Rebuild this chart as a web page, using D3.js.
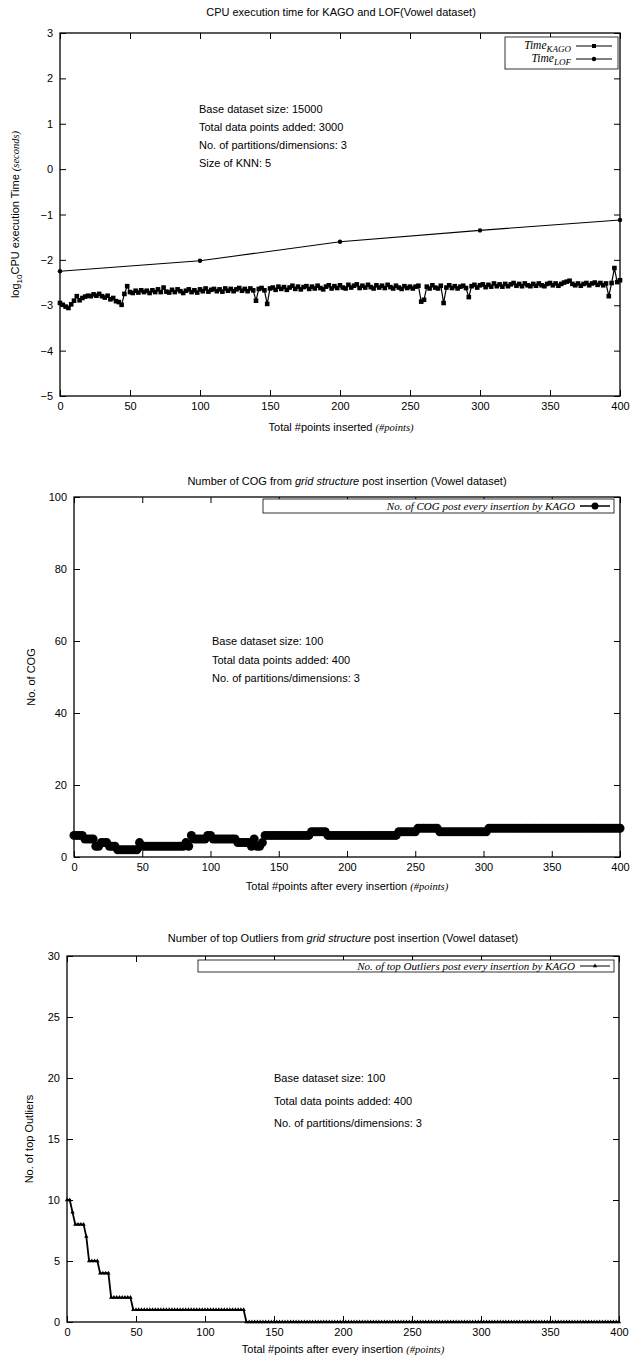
<!DOCTYPE html>
<html>
<head>
<meta charset="utf-8">
<script src="https://cdn.jsdelivr.net/npm/d3@7"></script>
<style>
  body { margin: 0; background: #fff; }
  svg { display: block; }
  text { font-family: "Liberation Sans", Arial, Helvetica, sans-serif; fill: #000; }
  .serif { font-family: "Liberation Serif", "Times New Roman", serif; font-style: italic; }
</style>
</head>
<body>
<svg id="fig" width="642" height="1358"></svg>
<script>
// ---------------- data ----------------
const xTickValues = [0, 50, 100, 150, 200, 250, 300, 350, 400];
const insertionStep = 2; // one sample every 2nd insertion

// log10 CPU time (s) of KAGO, one value per sampled insertion (0..400)
const kagoLogTime = [
  -2.95,-2.99,-3.03,-3.06,-2.98,-2.90,-2.80,-2.89,-2.84,-2.81,
  -2.79,-2.80,-2.76,-2.79,-2.75,-2.80,-2.83,-2.79,-2.87,-2.84,
  -2.91,-2.93,-2.99,-2.75,-2.58,-2.71,-2.73,-2.68,-2.72,-2.67,
  -2.71,-2.68,-2.73,-2.67,-2.71,-2.65,-2.71,-2.61,-2.70,-2.72,
  -2.66,-2.71,-2.65,-2.69,-2.73,-2.68,-2.65,-2.71,-2.67,-2.72,
  -2.65,-2.69,-2.63,-2.70,-2.66,-2.64,-2.69,-2.65,-2.70,-2.63,
  -2.68,-2.64,-2.69,-2.65,-2.62,-2.68,-2.64,-2.69,-2.63,-2.67,
  -2.90,-2.64,-2.62,-2.67,-2.97,-2.63,-2.61,-2.66,-2.59,-2.64,
  -2.60,-2.66,-2.61,-2.57,-2.64,-2.59,-2.65,-2.60,-2.58,-2.64,
  -2.59,-2.63,-2.57,-2.62,-2.65,-2.59,-2.56,-2.63,-2.58,-2.62,
  -2.56,-2.61,-2.63,-2.55,-2.61,-2.57,-2.54,-2.62,-2.57,-2.61,
  -2.55,-2.60,-2.63,-2.56,-2.61,-2.57,-2.62,-2.55,-2.60,-2.63,
  -2.57,-2.61,-2.64,-2.58,-2.62,-2.59,-2.63,-2.59,-2.57,-2.92,
  -2.88,-2.59,-2.63,-2.56,-2.61,-2.63,-2.57,-2.95,-2.61,-2.56,
  -2.62,-2.58,-2.63,-2.59,-2.57,-2.62,-2.82,-2.58,-2.55,-2.61,
  -2.56,-2.54,-2.60,-2.55,-2.59,-2.52,-2.58,-2.54,-2.59,-2.53,
  -2.58,-2.54,-2.51,-2.57,-2.53,-2.58,-2.52,-2.56,-2.58,-2.53,
  -2.57,-2.52,-2.56,-2.58,-2.53,-2.51,-2.56,-2.52,-2.57,-2.53,
  -2.50,-2.48,-2.46,-2.53,-2.56,-2.52,-2.57,-2.53,-2.51,-2.56,
  -2.52,-2.50,-2.55,-2.51,-2.56,-2.52,-2.80,-2.51,-2.18,-2.49,
  -2.45
];
// log10 CPU time (s) of LOF, measured every 100 insertions
const lofInserted = [0, 100, 200, 300, 400];
const lofLogTime = [-2.25, -2.02, -1.60, -1.35, -1.12];
const cpuYTicks = [3, 2, 1, 0, -1, -2, -3, -4, -5];

// number of COG after every sampled insertion (0..400)
const cogCounts = [
  6,6,6,6, 5,5,5,5, 3,3, 4,4,4, 3,3,3, 2,2,2,2,2,2,2,2, 4,
  3,3,3,3,3,3,3,3,3,3,3,3,3,3,3,3, 4,3,6, 5,5,5,5,5, 6,6,
  5,5,5,5,5,5,5,5,5, 4,4,4,4,4, 3,5,3,3, 4,
  6,6,6,6,6,6,6,6,6,6,6,6,6,6,6,6,6, 7,7,7,7,7,7,
  6,6,6,6,6,6,6,6,6,6,6,6,6,6,6,6,6,6,6,6,6,6,6,6,6,6,
  7,7,7,7,7,7,7, 8,8,8,8,8,8,8,8,
  7,7,7,7,7,7,7,7,7,7,7,7,7,7,7,7,7,7,
  8,8,8,8,8,8,8,8,8,8,8,8,8,8,8,8,8,8,8,8,8,8,8,8,8,
  8,8,8,8,8,8,8,8,8,8,8,8,8,8,8,8,8,8,8,8,8,8,8,8
];
const cogYTicks = [0, 20, 40, 60, 80, 100];

// number of top outliers after every sampled insertion (0..400)
const outlierCounts = [
  10,10,9,8,8,8,8,7, 5,5,5,5, 4,4,4,4,
  2,2,2,2,2,2,2,2,
  1,1,1,1,1,1,1,1,1,1,1,1,1,1,1,1,1,1,1,1,
  1,1,1,1,1,1,1,1,1,1,1,1,1,1,1,1,1,1,1,1,1,
  0,0,0,0,0,0,0,0,0,0,0,0,0,0,0,0,0,0,0,0,0,0,0,0,0,0,0,0,0,0,0,0,0,0,
  0,0,0,0,0,0,0,0,0,0,0,0,0,0,0,0,0,0,0,0,0,0,0,0,0,0,0,0,0,0,0,0,0,0,
  0,0,0,0,0,0,0,0,0,0,0,0,0,0,0,0,0,0,0,0,0,0,0,0,0,0,0,0,0,0,0,0,0,0,
  0,0,0,0,0,0,0,0,0,0,0,0,0,0,0,0,0,0,0,0,0,0,0,0,0,0,0,0,0,0,0,0,0,0
];
const outlierYTicks = [0, 5, 10, 15, 20, 25, 30];

// ---------------- drawing helpers ----------------
const svg = d3.select("#fig");
const TICK = 6;

function frame(g, x, y, yTicks) {
  const [x0, x1] = x.range();
  const [y0, y1] = y.range(); // y0 bottom, y1 top
  g.append("g").attr("transform", `translate(0,${y0})`)
    .call(d3.axisBottom(x).tickValues(xTickValues).tickSizeInner(-TICK).tickSizeOuter(0).tickPadding(6))
    .call(a => a.select(".domain").remove());
  g.append("g").attr("transform", `translate(0,${y1})`)
    .call(d3.axisTop(x).tickValues(xTickValues).tickSizeInner(-TICK).tickSizeOuter(0).tickFormat(""))
    .call(a => a.select(".domain").remove());
  g.append("g").attr("transform", `translate(${x0},0)`)
    .call(d3.axisLeft(y).tickValues(yTicks).tickSizeInner(-TICK).tickSizeOuter(0).tickPadding(7)
      .tickFormat(d => d < 0 ? "\u2212" + Math.abs(d) : d))
    .call(a => a.select(".domain").remove());
  g.append("g").attr("transform", `translate(${x1},0)`)
    .call(d3.axisRight(y).tickValues(yTicks).tickSizeInner(-TICK).tickSizeOuter(0).tickFormat(""))
    .call(a => a.select(".domain").remove());
  g.selectAll(".tick line").attr("stroke", "#000");
  g.selectAll(".tick text").attr("font-size", 11).attr("font-family", "Liberation Sans, Arial, sans-serif").attr("fill", "#000");
  g.append("rect").attr("x", x0).attr("y", y1).attr("width", x1 - x0).attr("height", y0 - y1)
    .attr("fill", "none").attr("stroke", "#000").attr("stroke-width", 1.3);
}

function title(g, cx, cy, parts) {
  const t = g.append("text").attr("x", cx).attr("y", cy).attr("text-anchor", "middle").attr("font-size", 11);
  parts.forEach(p => { const s = t.append("tspan").text(p.t); if (p.i) s.attr("font-style", "italic"); });
}

function xLabel(g, cx, cy, main) {
  const t = g.append("text").attr("x", cx).attr("y", cy).attr("text-anchor", "middle").attr("font-size", 11);
  t.append("tspan").text(main + " ");
  t.append("tspan").attr("class", "serif").attr("font-size", 10.5).text("(#points)");
}

function notes(g, x, y0, dy, lines) {
  lines.forEach((l, i) => g.append("text").attr("x", x).attr("y", y0 + i * dy).attr("font-size", 11).text(l));
}

// ---------------- panel 1: CPU time ----------------
{
  const g = svg.append("g");
  const x = d3.scaleLinear().domain([0, 400]).range([60, 620]);
  const y = d3.scaleLinear().domain([-5, 3]).range([396, 33]);
  title(g, 341, 16, [{ t: "CPU execution time for KAGO and LOF(Vowel dataset)" }]);
  frame(g, x, y, cpuYTicks);

  const kago = kagoLogTime.map((v, i) => [i * insertionStep, v]);
  const line = d3.line().x(d => x(d[0])).y(d => y(d[1]));
  g.append("path").datum(kago).attr("d", line).attr("fill", "none").attr("stroke", "#000").attr("stroke-width", 1.2);
  g.selectAll(".kago").data(kago).join("rect").attr("class", "kago")
    .attr("x", d => x(d[0]) - 2.3).attr("y", d => y(d[1]) - 2.3).attr("width", 4.6).attr("height", 4.6).attr("fill", "#000");

  const lof = lofInserted.map((v, i) => [v, lofLogTime[i]]);
  g.append("path").datum(lof).attr("d", line).attr("fill", "none").attr("stroke", "#000").attr("stroke-width", 1.1);
  g.selectAll(".lof").data(lof).join("circle").attr("class", "lof")
    .attr("cx", d => x(d[0])).attr("cy", d => y(d[1])).attr("r", 2.2).attr("fill", "#000");

  // key
  g.append("rect").attr("x", 505).attr("y", 37).attr("width", 113).attr("height", 32)
    .attr("fill", "#fff").attr("stroke", "#000").attr("stroke-width", 0.8);
  [["KAGO", 49, "sq"], ["LOF", 62, "dot"]].forEach(([name, yy, m]) => {
    const t = g.append("text").attr("x", 571).attr("y", yy).attr("text-anchor", "end").attr("class", "serif").attr("font-size", 11.5);
    t.append("tspan").text("Time");
    t.append("tspan").attr("font-size", 9).attr("dy", 3).text(name);
    g.append("line").attr("x1", 576).attr("x2", 612).attr("y1", yy - 3).attr("y2", yy - 3).attr("stroke", "#000");
    if (m === "sq") g.append("rect").attr("x", 592).attr("y", yy - 5).attr("width", 4).attr("height", 4).attr("fill", "#000");
    else g.append("circle").attr("cx", 594).attr("cy", yy - 3).attr("r", 2.2).attr("fill", "#000");
  });

  notes(g, 199, 113, 18, ["Base dataset size: 15000", "Total data points added: 3000",
    "No. of partitions/dimensions: 3", "Size of KNN: 5"]);

  xLabel(g, 341, 431, "Total #points inserted");
  const yl = g.append("text").attr("transform", `translate(19,${(33 + 396) / 2}) rotate(-90)`)
    .attr("text-anchor", "middle").attr("font-size", 11);
  yl.append("tspan").text("log");
  yl.append("tspan").attr("font-size", 8).attr("dy", 3).text("10");
  yl.append("tspan").attr("dy", -3).text("CPU execution Time ");
  yl.append("tspan").attr("class", "serif").attr("font-size", 10.5).text("(seconds)");
}

// ---------------- panel 2: COG count ----------------
{
  const g = svg.append("g");
  const x = d3.scaleLinear().domain([0, 400]).range([74, 620]);
  const y = d3.scaleLinear().domain([0, 100]).range([857, 497]);
  title(g, 347, 485, [{ t: "Number of COG from " }, { t: "grid structure", i: true }, { t: " post insertion (Vowel dataset)" }]);
  frame(g, x, y, cogYTicks);

  const cog = cogCounts.map((v, i) => [i * insertionStep, v]);
  const line = d3.line().x(d => x(d[0])).y(d => y(d[1]));
  g.append("path").datum(cog).attr("d", line).attr("fill", "none").attr("stroke", "#000").attr("stroke-width", 2);
  g.selectAll(".cog").data(cog).join("circle").attr("class", "cog")
    .attr("cx", d => x(d[0])).attr("cy", d => y(d[1])).attr("r", 4.5).attr("fill", "#000");

  g.append("rect").attr("x", 263).attr("y", 499).attr("width", 351).attr("height", 14)
    .attr("fill", "#fff").attr("stroke", "#000").attr("stroke-width", 0.8);
  g.append("text").attr("x", 575).attr("y", 510).attr("text-anchor", "end").attr("class", "serif").attr("font-size", 11)
    .text("No. of COG post every insertion by KAGO");
  g.append("line").attr("x1", 580).attr("x2", 610).attr("y1", 506).attr("y2", 506).attr("stroke", "#000").attr("stroke-width", 1.5);
  g.append("circle").attr("cx", 595).attr("cy", 506).attr("r", 3.5).attr("fill", "#000");

  notes(g, 212, y(60) + 4, 18.5, ["Base dataset size: 100", "Total data points added: 400", "No. of partitions/dimensions: 3"]);

  xLabel(g, 347, 890, "Total #points after every insertion");
  g.append("text").attr("transform", `translate(35,${(497 + 857) / 2}) rotate(-90)`)
    .attr("text-anchor", "middle").attr("font-size", 11).text("No. of COG");
}

// ---------------- panel 3: top outliers ----------------
{
  const g = svg.append("g");
  const x = d3.scaleLinear().domain([0, 400]).range([67, 619]);
  const y = d3.scaleLinear().domain([0, 30]).range([1322, 956]);
  title(g, 343, 942, [{ t: "Number of top Outliers from " }, { t: "grid structure", i: true }, { t: " post insertion (Vowel dataset)" }]);
  frame(g, x, y, outlierYTicks);

  const out = outlierCounts.map((v, i) => [i * insertionStep, v]);
  const line = d3.line().x(d => x(d[0])).y(d => y(d[1]));
  g.append("path").datum(out).attr("d", line).attr("fill", "none").attr("stroke", "#000").attr("stroke-width", 1.8);
  const tri = d3.symbol().type(d3.symbolTriangle).size(8);
  g.selectAll(".out").data(out).join("path").attr("class", "out")
    .attr("transform", d => `translate(${x(d[0])},${y(d[1])})`).attr("d", tri).attr("fill", "#000");

  g.append("rect").attr("x", 198).attr("y", 960).attr("width", 416).attr("height", 12)
    .attr("fill", "#fff").attr("stroke", "#000").attr("stroke-width", 0.8);
  g.append("text").attr("x", 575).attr("y", 970).attr("text-anchor", "end").attr("class", "serif").attr("font-size", 11)
    .text("No. of top Outliers post every insertion by KAGO");
  g.append("line").attr("x1", 580).attr("x2", 610).attr("y1", 966).attr("y2", 966).attr("stroke", "#000");
  g.append("path").attr("transform", "translate(595,966)").attr("d", tri).attr("fill", "#000");

  notes(g, 274, y(20) + 4, 22.5, ["Base dataset size: 100", "Total data points added: 400", "No. of partitions/dimensions: 3"]);

  xLabel(g, 343, 1353, "Total #points after every insertion");
  g.append("text").attr("transform", `translate(33,${(956 + 1322) / 2}) rotate(-90)`)
    .attr("text-anchor", "middle").attr("font-size", 11).text("No. of top Outliers");
}
</script>
</body>
</html>
